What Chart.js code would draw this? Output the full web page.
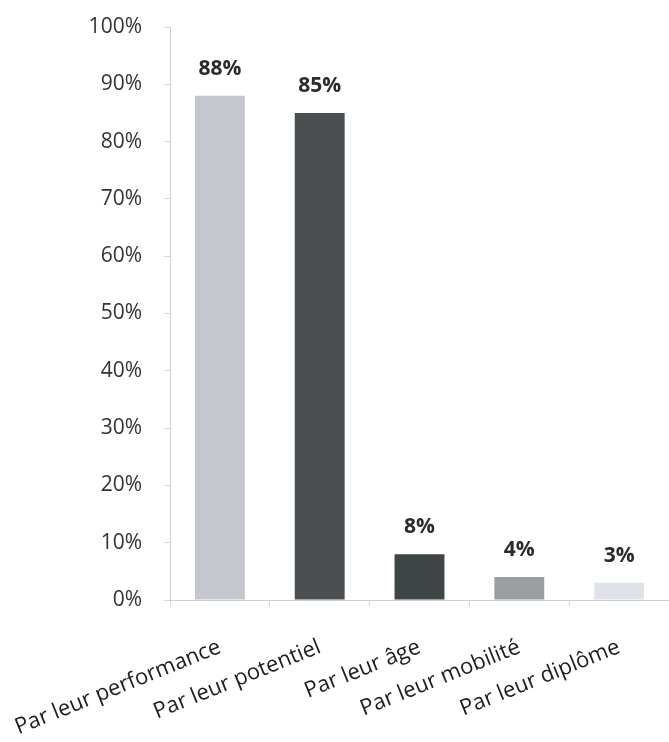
<!DOCTYPE html>
<html>
<head>
<meta charset="utf-8">
<script src="https://cdn.jsdelivr.net/npm/chart.js@4/dist/chart.umd.min.js"></script>
<style>
  html, body { margin: 0; padding: 0; background: #fff; }
  #wrap { width: 669px; height: 742px; }
</style>
</head>
<body>
<div id="wrap"><canvas id="chart"></canvas></div>
<script>
const categories = ["Par leur performance", "Par leur potentiel", "Par leur âge", "Par leur mobilité", "Par leur diplôme"];
const values = [88, 85, 8, 4, 3];
const barColors = ["#c5c7cf", "#4b4f51", "#3f4547", "#9b9ea1", "#dfe2ea"];
const yTicks = [0, 10, 20, 30, 40, 50, 60, 70, 80, 90, 100];

const FONT = "'Open Sans', Lato, sans-serif";

// etiquettes au-dessus des barres
const valueLabels = {
  id: "valueLabels",
  afterDatasetsDraw(chart) {
    const { ctx } = chart;
    const meta = chart.getDatasetMeta(0);
    ctx.save();
    ctx.font = "bold 21px " + FONT;
    ctx.fillStyle = "#2b2b2b";
    ctx.textAlign = "center";
    ctx.textBaseline = "middle";
    meta.data.forEach((bar, i) => {
      ctx.fillText(values[i] + "%", bar.x, bar.y - 27);
    });
    ctx.restore();
  }
};

new Chart(document.getElementById("chart"), {
  type: "bar",
  data: {
    labels: categories,
    datasets: [{
      data: values,
      backgroundColor: barColors,
      borderWidth: 0,
      categoryPercentage: 1,
      barPercentage: 0.5
    }]
  },
  options: {
    responsive: true,
    maintainAspectRatio: false,
    animation: false,
    layout: { padding: { top: 27, right: 0, left: 0, bottom: 0 } },
    plugins: { legend: { display: false }, tooltip: { enabled: false } },
    scales: {
      x: {
        offset: true,
        grid: { drawOnChartArea: false, offset: true, tickLength: 6, color: "#d6d6d6" },
        border: { color: "#d0d0d0" },
        ticks: {
          color: "#1e1e1e",
          font: { family: FONT, size: 22 },
          minRotation: 22,
          maxRotation: 22,
          padding: 28
        },
        afterFit: (scale) => {
          scale.height = 142;
          scale.paddingLeft = 0;
          scale.paddingRight = 0;
        }
      },
      y: {
        min: 0,
        max: 100,
        afterBuildTicks: (scale) => { scale.ticks = yTicks.map((v) => ({ value: v })); },
        grid: { drawOnChartArea: false, tickLength: 6, color: "#d6d6d6" },
        border: { color: "#d0d0d0" },
        ticks: {
          color: "#333",
          font: { family: FONT, size: 21 },
          padding: 22,
          callback: (v) => v + "%"
        },
        afterFit: (scale) => {
          scale.width = 170;
          scale.paddingTop = 0;
          scale.paddingBottom = 0;
        }
      }
    }
  },
  plugins: [valueLabels]
});
</script>
</body>
</html>
